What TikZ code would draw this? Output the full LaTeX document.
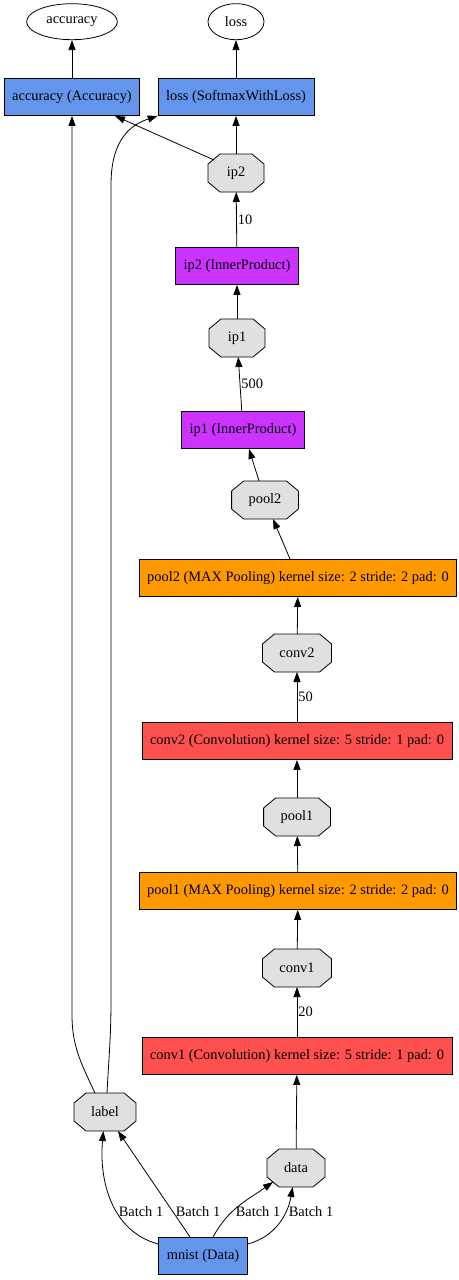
\documentclass[tikz,border=0pt]{standalone}
\usepackage{fontspec}
\setmainfont{Liberation Serif}
\usepackage{tikz}
\usetikzlibrary{arrows.meta,shapes.geometric,positioning}
\definecolor{convred}{HTML}{FF5050}
\definecolor{poolorange}{HTML}{FF9900}
\definecolor{ipviolet}{HTML}{CC33FF}
\definecolor{datablue}{HTML}{6495ED}
\definecolor{blobgray}{HTML}{E0E0E0}

% octagon with cut corners, the size of a rectangle node
\makeatletter
\pgfdeclareshape{blob octagon}{%
  \inheritsavedanchors[from=rectangle]%
  \inheritanchorborder[from=rectangle]%
  \inheritanchor[from=rectangle]{center}%
  \inheritanchor[from=rectangle]{north}%
  \inheritanchor[from=rectangle]{south}%
  \inheritanchor[from=rectangle]{east}%
  \inheritanchor[from=rectangle]{west}%
  \inheritanchor[from=rectangle]{north west}%
  \inheritanchor[from=rectangle]{north east}%
  \inheritanchor[from=rectangle]{south west}%
  \inheritanchor[from=rectangle]{south east}%
  \backgroundpath{%
    \southwest\edef\octxl{\the\pgf@x}\edef\octyb{\the\pgf@y}%
    \northeast\edef\octxr{\the\pgf@x}\edef\octyt{\the\pgf@y}%
    \pgfpathmoveto{\pgfpoint{\octxl+12pt}{\octyb}}%
    \pgfpathlineto{\pgfpoint{\octxr-12pt}{\octyb}}%
    \pgfpathlineto{\pgfpoint{\octxr}{\octyb+10pt}}%
    \pgfpathlineto{\pgfpoint{\octxr}{\octyt-10pt}}%
    \pgfpathlineto{\pgfpoint{\octxr-12pt}{\octyt}}%
    \pgfpathlineto{\pgfpoint{\octxl+12pt}{\octyt}}%
    \pgfpathlineto{\pgfpoint{\octxl}{\octyt-10pt}}%
    \pgfpathlineto{\pgfpoint{\octxl}{\octyb+10pt}}%
    \pgfpathclose}%
}
\makeatother

\begin{document}
\begin{tikzpicture}[->,>={Triangle[length=10pt,width=7pt]},x=1pt,y=1pt,
  line width=0.8pt,font=\fontsize{14.4}{16}\selectfont,
  layer node/.style={rectangle,draw,minimum height=37pt,inner xsep=8pt},
  blob node/.style={blob octagon,draw,fill=blobgray,outer sep=0pt,
    minimum width=56pt,minimum height=38pt,inner xsep=17pt},
  out node/.style={ellipse,draw,minimum width=56pt,minimum height=36pt,inner xsep=6.5pt},
  edge label/.style={right,inner sep=1pt}]
    \useasboundingbox (0,0) rectangle (458,-1280);
    \node[layer node,fill=datablue](accL) at (72,-97) {accuracy (Accuracy)};
    \node[layer node,fill=datablue](lossL) at (236,-97) {loss (SoftmaxWithLoss)};
    \node[out node,above=38pt of accL](acc){accuracy};
    \node[out node,above=38pt of lossL](loss){loss};
    \node[blob node](ip2) at (236,-173) {ip2};
    \node[layer node,fill=ipviolet](ip2L) at (237,-266) {ip2 (InnerProduct)};
    \node[blob node](ip1) at (237,-338) {ip1};
    \node[layer node,fill=ipviolet](ip1L) at (243,-430) {ip1 (InnerProduct)};
    \node[blob node](pool2) at (265,-500) {pool2};
    \node[layer node,fill=poolorange](pool2L) at (298,-578) {pool2 (MAX Pooling) kernel size: 2 stride: 2 pad: 0};
    \node[blob node](conv2) at (297,-653) {conv2};
    \node[layer node,fill=convred](conv2L) at (297,-741) {conv2 (Convolution) kernel size: 5 stride: 1 pad: 0};
    \node[blob node](pool1) at (297,-817) {pool1};
    \node[layer node,fill=poolorange](pool1L) at (298,-891) {pool1 (MAX Pooling) kernel size: 2 stride: 2 pad: 0};
    \node[blob node](conv1) at (297,-968) {conv1};
    \node[layer node,fill=convred](conv1L) at (297,-1056) {conv1 (Convolution) kernel size: 5 stride: 1 pad: 0};
    \node[blob node](label) at (105,-1112) {label};
    \node[blob node](data) at (296,-1168) {data};
    \node[layer node,fill=datablue](mnist) at (203,-1256) {mnist (Data)};
    \path (accL) edge (acc)
          (lossL) edge (loss)
          (ip2) edge (lossL)
          ([shift={(-22pt,13pt)}]ip2.center) edge ([xshift=43pt]accL.south)
          (ip2L) edge node[edge label] {10} (ip2)
          (ip1) edge (ip2L)
          (ip1L) edge node[edge label] {500} (ip1)
          (pool2) edge (ip1L)
          (pool2L) edge (pool2)
          (conv2) edge (pool2L)
          (conv2L) edge node[edge label] {50} (conv2)
          (pool1) edge (conv2L)
          (pool1L) edge (pool1)
          (conv1) edge (pool1L)
          (conv1L) edge node[edge label] {20} (conv1)
          (data) edge (conv1L)
          (mnist) edge[out=165,in=-95] (label)
          (mnist) edge (label)
          (mnist) edge[out=62,in=-145] ([shift={(-23pt,-14pt)}]data.center)
          (mnist) edge[out=15,in=-100] (data)
    ;
    \node (b1) at (141,-1212) {Batch 1};
    \node (b2) at (198,-1212) {Batch 1};
    \node (b3) at (258,-1212) {Batch 1};
    \node (b4) at (311,-1212) {Batch 1};
    \draw ([xshift=-10pt]label.north) to[out=115,in=-90] (72,-1015) -- (accL.south);
    \draw ([xshift=2pt]label.north) to[out=87,in=-90] (111,-1000) -- (111,-185)
          .. controls (111,-140) and (130,-125) .. (lossL.south west);

\end{tikzpicture}
\end{document}
